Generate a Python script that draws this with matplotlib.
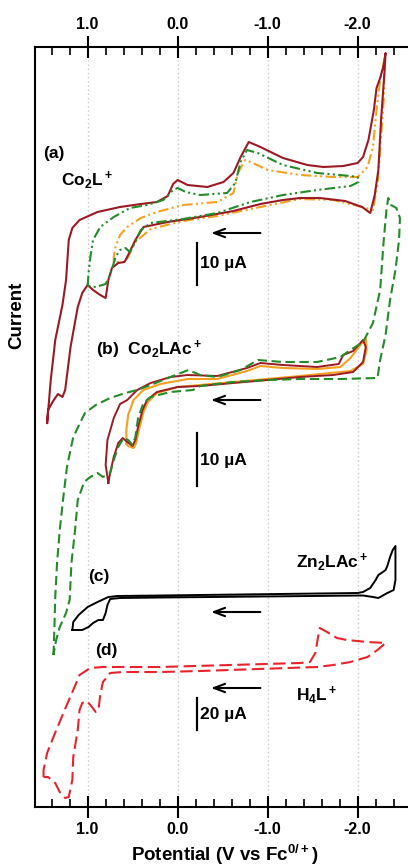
import matplotlib
matplotlib.use("Agg")
import matplotlib.pyplot as plt
from matplotlib.ticker import MultipleLocator, FixedLocator

plt.rcParams['font.family'] = ['Liberation Sans', 'DejaVu Sans']
plt.rcParams['font.weight'] = 'bold'
plt.rcParams['mathtext.fontset'] = 'custom'
plt.rcParams['mathtext.rm'] = 'Liberation Sans:bold'
plt.rcParams['mathtext.bf'] = 'Liberation Sans:bold'
plt.rcParams['mathtext.it'] = 'Liberation Sans:bold'
plt.rcParams['mathtext.default'] = 'bf'

# ---------------- data (potential in V vs Fc, current in offset arbitrary units) ----------------
# (a) Co2L+  full scan (dark red, solid)
a_red_E = [1.45, 1.41, 1.36, 1.28, 1.24, 1.21, 1.17, 1.09, 0.89, 0.64, 0.41, 0.23, 0.11, 0.05, 0.00,
           -0.11, -0.33, -0.51, -0.62, -0.70, -0.79, -0.92, -1.17, -1.44, -1.62, -1.84, -2.00, -2.06,
           -2.12, -2.18, -2.21, -2.25, -2.29, -2.31, -2.30, -2.26, -2.23, -2.19, -2.14, -2.05, -1.86,
           -1.58, -1.36, -1.17, -0.92, -0.62, -0.25, 0.11, 0.38, 0.47, 0.55, 0.59, 0.66, 0.73, 0.77,
           0.80, 0.86, 0.94, 1.00, 1.06, 1.11, 1.19, 1.25, 1.28, 1.33, 1.39, 1.44, 1.45]
a_red_I = [384, 427, 467, 502, 527, 567, 579, 587, 595, 600, 603, 605, 611, 623, 627,
           622, 620, 625, 634, 650, 665, 660, 649, 642, 640, 641, 644, 650,
           667, 697, 719, 729, 742, 754, 737, 687, 637, 612, 594, 600, 606,
           609, 609, 607, 603, 596, 590, 585, 580, 567, 552, 545, 544, 539, 527,
           509, 512, 517, 522, 514, 500, 460, 417, 410, 413, 405, 397, 384]

# (a) narrower scan (green, dash-dot-dot)
a_grn_E = [1.00, 0.99, 0.97, 0.94, 0.86, 0.71, 0.53, 0.34, 0.16, 0.05, 0.00, -0.09, -0.25, -0.55,
           -0.64, -0.70, -0.77, -0.89, -1.17, -1.55, -1.92, -2.00, -2.01, -1.92, -1.55, -1.17, -0.81,
           -0.44, -0.06, 0.30, 0.41, 0.47, 0.53, 0.58, 0.64, 0.69, 0.75, 0.80, 0.91, 1.00]
a_grn_I = [521, 534, 550, 567, 580, 590, 599, 602, 607, 617, 619, 615, 612, 614,
           624, 645, 657, 654, 642, 634, 631, 630, 625, 621, 617, 612, 605,
           594, 588, 584, 577, 565, 555, 559, 557, 550, 532, 523, 520, 521]

# (a) scan with positive limit near 0.7 V (orange, dash-dot-dot)
a_org_E = [0.71, 0.71, 0.69, 0.64, 0.56, 0.41, 0.23, -0.06, -0.44, -0.62, -0.67, -0.75, -0.81, -1.00,
           -1.36, -1.73, -2.00, -2.11, -2.17, -2.21, -2.25, -2.30, -2.29, -2.25, -2.22, -2.17, -2.05,
           -1.73, -1.36, -0.81, -0.44, -0.06, 0.30, 0.47, 0.55, 0.59, 0.66, 0.71]
a_org_I = [545, 550, 560, 572, 580, 589, 595, 602, 605, 614, 634, 647, 645, 637,
           632, 630, 630, 640, 660, 697, 727, 749, 707, 657, 622, 597, 600,
           607, 608, 598, 591, 586, 578, 565, 550, 545, 545, 545]

# (b) Co2LAc+ (dark red, solid)
b_red_E = [0.77, 0.80, 0.78, 0.71, 0.64, 0.56, 0.45, 0.30, 0.08, -0.11, -0.44, -0.77, -0.92, -1.17,
           -1.55, -1.79, -1.84, -1.95, -2.06, -2.09, -2.06, -1.95, -1.73, -1.36, -1.00, -0.62, -0.25,
           0.00, 0.23, 0.34, 0.39, 0.44, 0.47, 0.50, 0.56, 0.61, 0.66, 0.71, 0.75, 0.77]
b_red_I = [324, 342, 367, 389, 403, 407, 417, 424, 430, 432, 431, 439, 444, 442,
           440, 443, 452, 456, 467, 460, 445, 435, 432, 430, 427, 424, 421,
           420, 415, 407, 397, 380, 367, 361, 365, 369, 364, 350, 334, 324]

# (b) narrower scan (orange, solid)
b_org_E = [0.57, 0.57, 0.55, 0.49, 0.38, 0.19, -0.11, -0.44, -0.77, -0.92, -1.17, -1.55, -1.81,
           -1.92, -2.09, -2.10, -2.06, -1.92, -1.36, -0.62, 0.00, 0.23, 0.33, 0.38, 0.43, 0.46,
           0.49, 0.55, 0.57]
b_org_I = [363, 377, 392, 407, 417, 423, 428, 428, 436, 441, 439, 438, 440,
           449, 469, 457, 443, 436, 431, 425, 420, 414, 405, 395, 377, 364,
           359, 361, 363]

# (b) wide scan (green, dashed)
b_grn_E = [1.38, 1.37, 1.36, 1.34, 1.31, 1.27, 1.23, 1.16, 1.03, 0.91, 0.75, 0.58, 0.45, 0.30,
           0.08, -0.12, -0.25, -0.44, -0.70, -0.89, -1.17, -1.55, -1.81, -1.92, -2.06, -2.17,
           -2.25, -2.29, -2.32, -2.34, -2.37, -2.43, -2.47, -2.46, -2.42, -2.36, -2.31, -2.25,
           -2.22, -1.81, -1.36, -1.00, -0.62, -0.25, -0.17, 0.08, 0.30, 0.38, 0.44, 0.47, 0.50,
           0.55, 0.60, 0.66, 0.71, 0.75, 0.83, 0.89, 0.97, 1.04, 1.07, 1.11, 1.14, 1.18, 1.20,
           1.24, 1.31, 1.35, 1.38]
b_grn_I = [152, 177, 210, 244, 277, 310, 340, 370, 394, 402, 409, 414, 417, 422,
           430, 437, 432, 430, 437, 447, 445, 445, 450, 457, 465, 484,
           517, 567, 597, 609, 602, 599, 589, 567, 537, 507, 472, 447,
           429, 428, 428, 427, 425, 421, 417, 415, 410, 404, 389, 370, 362,
           367, 369, 360, 347, 334, 330, 334, 330, 325, 317, 307, 277, 244, 207,
           194, 180, 167, 152]

# (c) Zn2LAc+ (black, solid)
c_E = [1.17, 1.16, 1.10, 1.00, 0.89, 0.77, 0.67, 0.19, -2.00, -2.06, -2.14, -2.20, -2.23, -2.28,
       -2.31, -2.33, -2.36, -2.39, -2.42, -2.42, -2.42, -2.40, -2.33, -2.23, -2.17, -2.06, 0.19,
       0.64, 0.75, 0.78, 0.80, 0.83, 0.88, 0.94, 0.99, 1.06, 1.17]
c_I = [177, 185, 192, 200, 205, 210, 211, 211.5, 214, 215, 219, 227, 232, 235,
       237, 241, 250, 257, 261, 254, 227, 217, 214, 209, 210, 211.5, 209.5,
       209, 208, 202, 194, 187, 187, 184, 180, 177, 177]

# (d) H4L+ (red, dashed)
d_E = [1.49, 1.49, 1.45, 1.38, 1.27, 1.16, 1.09, 0.97, 0.83, 0.19, -1.36, -1.47, -1.53, -1.56,
       -1.58, -1.66, -1.77, -1.88, -2.11, -2.31, -2.22, -2.11, -1.92, -1.73, -1.55, -0.25, 0.19,
       0.61, 0.75, 0.83, 0.86, 0.88, 0.91, 0.97, 1.01, 1.06, 1.09, 1.11, 1.16, 1.17, 1.21, 1.25,
       1.31, 1.36, 1.44, 1.49]
d_I = [30, 37, 54, 70, 94, 117, 132, 139, 140, 140, 144, 145, 154, 170,
       179, 175, 169, 167, 165, 164, 157, 150, 145, 142, 140, 136, 135,
       135, 134, 125, 112, 97, 95, 102, 106, 104, 97, 77, 50, 27, 10, 9,
       15, 24, 30, 30]

major_ticks = [1.0, 0.0, -1.0, -2.0]
tick_labels = ['1.0', '0.0', '-1.0', '-2.0']

# ---------------- figure ----------------
fig = plt.figure(figsize=(4.08, 8.66), dpi=100)
ax = fig.add_axes([35 / 408, 59 / 866, 376.65 / 408, 760 / 866])
ax.set_xlim(1.585, -2.6)
ax.set_ylim(0, 760)

for t in major_ticks:
    ax.axvline(t, color='#c8c8c8', lw=1.0, ls=(0, (1, 2)), zorder=0)

dd = (0, (5, 1.6, 1, 1.6, 1, 1.6))
ax.plot(a_org_E, a_org_I, color='#f5a020', lw=1.5, ls=dd, zorder=2)
ax.plot(a_red_E, a_red_I, color='#9b1b24', lw=1.5, zorder=3)
ax.plot(a_grn_E, a_grn_I, color='#238b2a', lw=1.5, ls=dd, zorder=4)

ax.plot(b_org_E, b_org_I, color='#f5a020', lw=1.5, zorder=2)
ax.plot(b_red_E, b_red_I, color='#9b1b24', lw=1.4, zorder=3)
ax.plot(b_grn_E, b_grn_I, color='#238b2a', lw=1.5, ls=(0, (4.5, 2.2)), zorder=4)

ax.plot(c_E, c_I, color='black', lw=1.4, zorder=3)
ax.plot(d_E, d_I, color='#e8232b', lw=1.5, ls=(0, (6, 2.6)), zorder=3)

# scan-direction arrows
for yy in [574, 407, 195, 119]:
    ax.annotate('', xy=(-0.34, yy), xytext=(-0.95, yy),
                arrowprops=dict(arrowstyle='->,head_length=0.8,head_width=0.3', lw=1.5, color='black'))

# scale bars
ax.plot([-0.21, -0.21], [522, 564], color='black', lw=1.6)
ax.plot([-0.21, -0.21], [321, 374], color='black', lw=1.6)
ax.plot([-0.21, -0.21], [77, 109], color='black', lw=1.6)
fs = 12.5
ax.text(-0.25, 544, '10 \u00b5A', fontsize=fs, va='center', ha='left', fontweight='bold')
ax.text(-0.25, 347, '10 \u00b5A', fontsize=fs, va='center', ha='left', fontweight='bold')
ax.text(-0.25, 93, '20 \u00b5A', fontsize=fs, va='center', ha='left', fontweight='bold')

# panel labels
ax.text(1.49, 654, '(a)', fontsize=fs, va='center', ha='left')
ax.text(1.30, 627, r'Co$_2$L$^+$', fontsize=fs, va='center', ha='left')
ax.text(0.91, 457, r'(b)  Co$_2$LAc$^+$', fontsize=fs, va='center', ha='left')
ax.text(1.00, 230, '(c)', fontsize=fs, va='center', ha='left')
ax.text(-1.31, 245, r'Zn$_2$LAc$^+$', fontsize=fs, va='center', ha='left')
ax.text(0.92, 157, '(d)', fontsize=fs, va='center', ha='left')
ax.text(-1.31, 112, r'H$_4$L$^+$', fontsize=fs, va='center', ha='left')

# axes styling
ax.spines['right'].set_visible(False)
for s in ['left', 'top', 'bottom']:
    ax.spines[s].set_linewidth(1.5)
ax.set_yticks([])
ax.xaxis.set_major_locator(FixedLocator(major_ticks))
ax.set_xticklabels(tick_labels)
ax.xaxis.set_minor_locator(MultipleLocator(0.2))
ax.tick_params(axis='x', which='major', direction='inout', length=16, width=1.5,
               top=True, labeltop=True, bottom=True, labelbottom=True, labelsize=11.5, pad=3)
ax.tick_params(axis='x', which='minor', direction='in', length=6, width=1.2, top=True, bottom=True)
for lab in ax.get_xticklabels():
    lab.set_fontweight('bold')

fig.text(225 / 408, 1 - 855 / 866, r'Potential (V vs Fc$^{0/+}$)', fontsize=13.5,
         ha='center', va='center')
fig.text(17 / 408, 1 - 315 / 866, 'Current', fontsize=13.5, rotation=90, ha='center', va='center')

fig.savefig('out.png', dpi=100)
